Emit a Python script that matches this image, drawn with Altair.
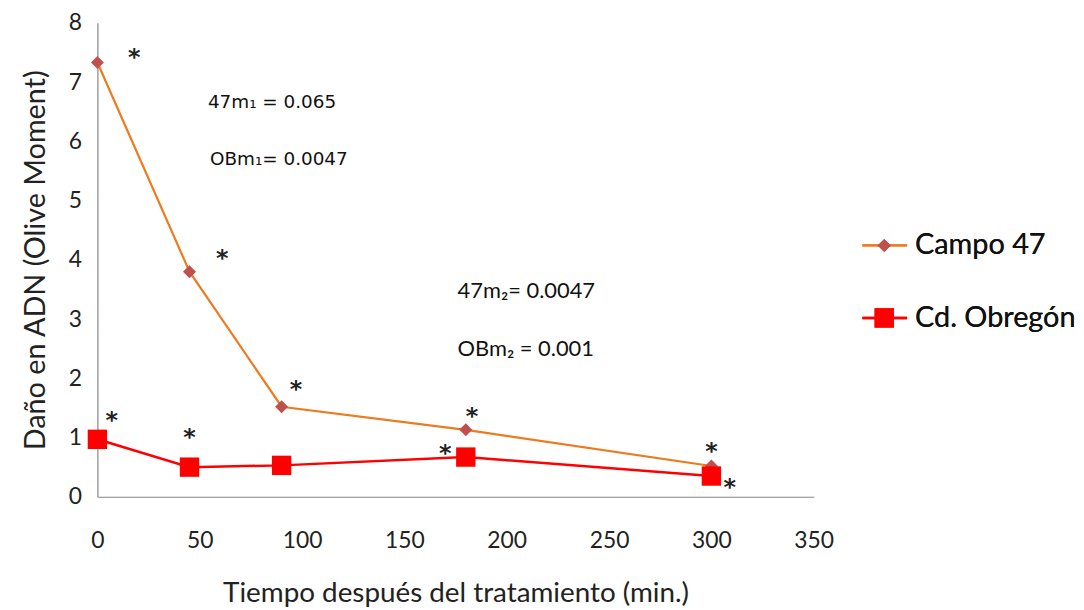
import altair as alt
import pandas as pd

# ---- data ----
times = [0, 45, 90, 180, 300]
campo47 = [7.33, 3.8, 1.52, 1.13, 0.52]
obregon = [0.97, 0.5, 0.53, 0.67, 0.35]

star_x = [18, 61, 97, 7, 45, 183, 170, 300, 309]
star_y = [7.5, 4.12, 1.9, 1.38, 1.1, 1.45, 0.82, 0.86, 0.25]

ann1_text = ["47m\u2081 = 0.065", "OBm\u2081= 0.0047"]
ann1_x = [54, 55]
ann1_y = [6.67, 5.7]
ann2_text = ["47m\u2082= 0.0047", "OBm\u2082 = 0.001"]
ann2_x = [176, 176]
ann2_y = [3.47, 2.5]

legend_labels = ["Campo 47", "Cd. Obregón"]

FONT = "Lato"
W, H = 721, 477

df = pd.DataFrame({"t": times, "c": campo47, "o": obregon})
stars = pd.DataFrame({"x": star_x, "y": star_y})
ann1 = pd.DataFrame({"x": ann1_x, "y": ann1_y, "s": ann1_text})
ann2 = pd.DataFrame({"x": ann2_x, "y": ann2_y, "s": ann2_text})

xs = alt.Scale(domain=[0, 350], nice=False)
ys = alt.Scale(domain=[0, 8], nice=False)

xax = alt.Axis(values=list(range(0, 351, 50)), title="Tiempo después del tratamiento (min.)",
               format="d", ticks=False, grid=False, domainColor="#868686", domainWidth=1.2,
               labelFontSize=23, labelColor="#222", labelPadding=33, labelFont=FONT,
               labelFlush=False,
               titleFont=FONT, titleFontSize=28, titleFontWeight="normal", titleColor="#222",
               titlePadding=27)
yax = alt.Axis(values=list(range(0, 9)), title="Daño en ADN (Olive Moment)",
               format="d", ticks=False, grid=False, domainColor="#868686", domainWidth=1.2,
               labelFontSize=23, labelColor="#222", labelPadding=16, labelFont=FONT,
               labelFlush=False,
               titleFont=FONT, titleFontSize=29, titleFontWeight="normal", titleColor="#222",
               titlePadding=18)

base = alt.Chart(df)
line_c = base.mark_line(color="#EE7A1E", strokeWidth=2.2).encode(
    x=alt.X("t:Q", scale=xs, axis=xax), y=alt.Y("c:Q", scale=ys, axis=yax))
pts_c = base.mark_point(shape="diamond", filled=True, color="#C0504D", size=170, opacity=1).encode(
    x=alt.X("t:Q", scale=xs), y=alt.Y("c:Q", scale=ys))
line_o = base.mark_line(color="#FF0000", strokeWidth=2.5).encode(
    x=alt.X("t:Q", scale=xs), y=alt.Y("o:Q", scale=ys))
pts_o = base.mark_point(shape="square", filled=True, color="#FF0000", size=380, opacity=1).encode(
    x=alt.X("t:Q", scale=xs), y=alt.Y("o:Q", scale=ys))

star_layer = alt.Chart(stars).mark_text(text="*", font="DejaVu Sans", fontSize=24, fontWeight="bold",
                                        color="#222", baseline="middle", dy=6).encode(
    x=alt.X("x:Q", scale=xs), y=alt.Y("y:Q", scale=ys))

ann1_layer = alt.Chart(ann1).mark_text(font="DejaVu Sans", fontSize=18.5, color="#111",
                                       align="left", baseline="middle").encode(
    x=alt.X("x:Q", scale=xs), y=alt.Y("y:Q", scale=ys), text="s:N")
ann2_layer = alt.Chart(ann2).mark_text(font=FONT, fontSize=22, color="#111",
                                       align="left", baseline="middle").encode(
    x=alt.X("x:Q", scale=xs), y=alt.Y("y:Q", scale=ys), text="s:N")

# manual legend
leg = alt.Chart(pd.DataFrame({"l": legend_labels}))
lg1_line = leg.mark_rule(color="#EE7A1E", strokeWidth=2.2).encode(
    x=alt.value(770), x2=alt.value(815), y=alt.value(224))
lg1_pt = leg.mark_point(shape="diamond", filled=True, color="#C0504D", size=170, opacity=1).encode(
    x=alt.value(792), y=alt.value(224))
lg1_txt = leg.mark_text(text=legend_labels[0], font=FONT, fontSize=29, color="#111",
                        align="left", baseline="middle").encode(x=alt.value(823), y=alt.value(224))
lg2_line = leg.mark_rule(color="#FF0000", strokeWidth=2.5).encode(
    x=alt.value(770), x2=alt.value(815), y=alt.value(297))
lg2_pt = leg.mark_point(shape="square", filled=True, color="#FF0000", size=380, opacity=1).encode(
    x=alt.value(792), y=alt.value(297))
lg2_txt = leg.mark_text(text=legend_labels[1], font=FONT, fontSize=29, color="#111",
                        align="left", baseline="middle").encode(x=alt.value(823), y=alt.value(297))

chart = alt.layer(line_c, line_o, pts_c, pts_o, star_layer, ann1_layer, ann2_layer,
                  lg1_line, lg1_pt, lg1_txt, lg2_line, lg2_pt, lg2_txt).properties(
    width=W, height=H,
    autosize=alt.AutoSizeParams(type="none"),
    padding={"left": 90, "top": 13, "right": 264, "bottom": 110},
    background="white",
).configure_view(stroke=None)

chart.save("out.html", embed_options={"renderer": "svg", "actions": False})
